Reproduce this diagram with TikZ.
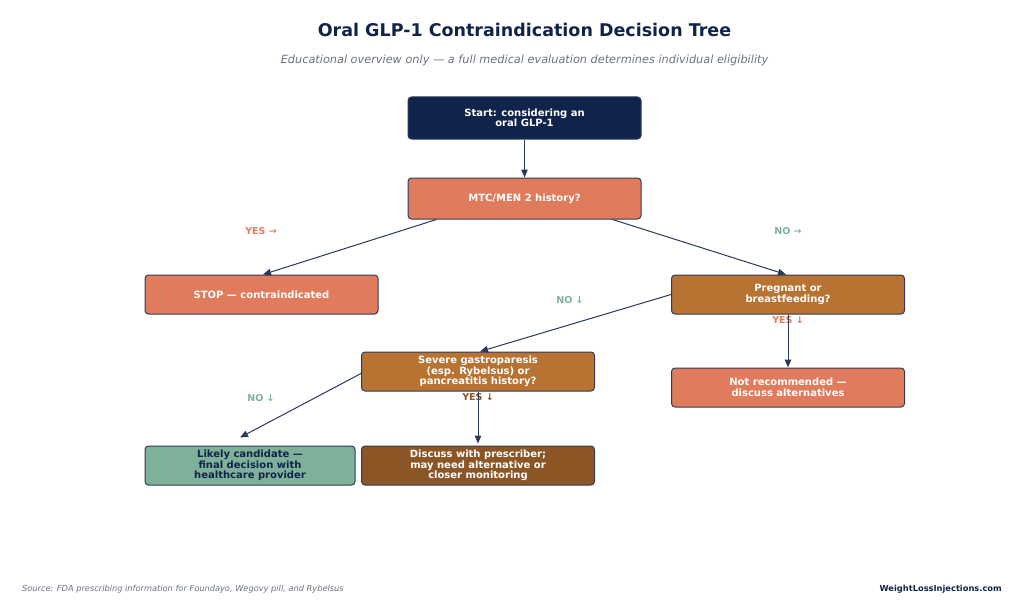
\documentclass[tikz,border=0pt]{standalone}
\usepackage{fontspec}
\setmainfont{DejaVu Sans}
\usetikzlibrary{positioning,arrows.meta}

\definecolor{navy}{HTML}{10234A}
\definecolor{coral}{HTML}{E07B5D}
\definecolor{copper}{HTML}{B87333}
\definecolor{umber}{HTML}{8B5526}
\definecolor{sage}{HTML}{7FB09A}
\definecolor{rim}{HTML}{2F3B57}
\definecolor{mist}{HTML}{6B7280}

\begin{document}
\begin{tikzpicture}[
        x=1pt, y=-1pt,
        font=\fontsize{10}{10.5}\selectfont\bfseries,
        node distance=38pt and 30pt,
        box/.style={
            draw=rim,
            line width=1pt,
            rounded corners=3.5pt,
            align=center,
            text=white,
            minimum width=233pt,
            minimum height=39pt,
            inner sep=2pt
        },
        lab/.style={
            font=\fontsize{9.5}{10}\selectfont\bfseries
        },
        arr/.style={
            -{Triangle[length=8pt,width=6.5pt]},
            draw=navy!90!white,
            line width=1pt
        }
    ]
    \useasboundingbox (0,0) rectangle (1024,615);

    \node[font=\fontsize{17.5}{20}\selectfont\bfseries, text=navy] (title) at (524.5,30) {Oral GLP-1 Contraindication Decision Tree};
    \node[font=\fontsize{11.3}{13}\selectfont\itshape, text=mist] (subtitle) at (524.5,60) {Educational overview only — a full medical evaluation determines individual eligibility};

    \node[box, fill=navy, minimum height=42pt] (start) at (524.5,118) {Start: considering an\\oral GLP-1};
    \node[box, fill=coral, minimum height=41pt, below=38pt of start] (mtc) {MTC/MEN 2 history?};

    \node[box, fill=coral] (stop) at (261.5,294.5) {STOP — contraindicated};
    \node[box, fill=copper] (preg) at (788,294.5) {Pregnant or\\breastfeeding?};

    \node[box, fill=copper] (sev) at (478,371.5) {Severe gastroparesis\\(esp. Rybelsus) or\\pancreatitis history?};
    \node[box, fill=coral, below=53pt of preg] (notrec) {Not recommended —\\discuss alternatives};

    \node[box, fill=sage, text=navy, minimum width=210pt] (likely) at (250,465.5) {Likely candidate —\\final decision with\\healthcare provider};
    \node[box, fill=umber] (disc) at (478,465.5) {Discuss with prescriber;\\may need alternative or\\closer monitoring};

    % branch labels
    \node[lab, text=coral] (yes1) at (261,231) {YES →};
    \node[lab, text=sage] (no1) at (788,231) {NO →};
    \node[lab, text=sage] (no2) at (570,300) {NO ↓};
    \node[lab, text=coral] (yes2) at (788,320) {YES ↓};
    \node[lab, text=sage] (no3) at (261,398) {NO ↓};
    \node[lab, text=umber] (yes3) at (478,397.5) {YES ↓};

    \draw[arr] (start) -- (mtc);
    \draw[arr] ([xshift=29pt]mtc.south west) -- ([xshift=1.5pt]stop.north);
    \draw[arr] ([xshift=-29pt]mtc.south east) -- ([xshift=-2pt]preg.north);
    \draw[arr] (preg.west) -- ([xshift=2pt]sev.north);
    \draw[arr] (preg) -- (notrec);
    \draw[arr] ([yshift=-2pt]sev.west) -- ([xshift=-10pt,yshift=8pt]likely.north);
    \draw[arr] (sev) -- ([yshift=2pt]disc.north);

    \node[anchor=west, inner sep=0pt, font=\fontsize{8.25}{9}\selectfont\itshape, text=mist] (source) at (22,589) {Source: FDA prescribing information for Foundayo, Wegovy pill, and Rybelsus};
    \node[anchor=east, inner sep=0pt, font=\fontsize{8.3}{9}\selectfont\bfseries, text=navy] (brand) at (1002,589) {WeightLossInjections.com};
\end{tikzpicture}
\end{document}
